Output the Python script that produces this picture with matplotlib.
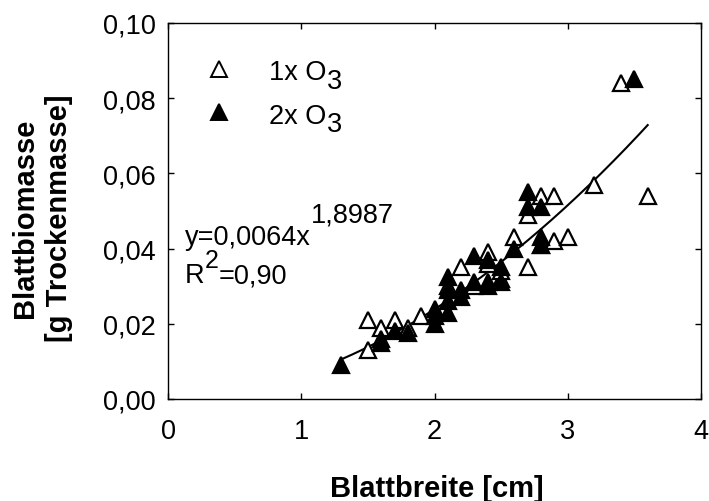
import numpy as np
import matplotlib
matplotlib.use('Agg')
import matplotlib.pyplot as plt
from matplotlib.ticker import FuncFormatter

plt.rcParams['font.family'] = ['Liberation Sans', 'DejaVu Sans']

# 1x O3 (offene Dreiecke)
open_x = [1.5, 1.5, 1.6, 1.7, 1.8, 1.9, 2.1, 2.2, 2.3, 2.4, 2.4, 2.5, 2.5, 2.6,
          2.7, 2.7, 2.8, 2.8, 2.9, 2.9, 3.0, 3.2, 3.4, 3.6]
open_y = [0.013, 0.021, 0.019, 0.021, 0.019, 0.022, 0.030, 0.035, 0.030, 0.039,
          0.036, 0.032, 0.034, 0.043, 0.049, 0.035, 0.054, 0.041, 0.054, 0.042,
          0.043, 0.057, 0.084, 0.054]

# 2x O3 (gefuellte Dreiecke)
filled_x = [1.3, 1.6, 1.6, 1.7, 1.8, 2.0, 2.0, 2.0, 2.1, 2.1, 2.1, 2.1, 2.2, 2.2,
            2.3, 2.3, 2.4, 2.4, 2.4, 2.5, 2.5, 2.6, 2.7, 2.7, 2.8, 2.8, 2.8, 3.5]
filled_y = [0.009, 0.016, 0.015, 0.018, 0.0175, 0.024, 0.022, 0.020, 0.0325,
            0.029, 0.026, 0.023, 0.029, 0.027, 0.038, 0.031, 0.037, 0.031, 0.030,
            0.035, 0.031, 0.040, 0.055, 0.051, 0.051, 0.043, 0.041, 0.085]

# Regression y = a * x^b
fit_a = 0.0064
fit_b = 1.8987
fit_range = [1.3, 3.6]

x_ticks = [0, 1, 2, 3, 4]
y_ticks = [0.0, 0.02, 0.04, 0.06, 0.08, 0.10]

DPI = 100
fig = plt.figure(figsize=(7.09, 5.02), dpi=DPI)
ax = fig.add_axes([168/709, 1-400/502, 533/709, 376/502])
renderer = fig.canvas.get_renderer()


def rich_text(x, y, parts):
    # parts: (text, fontsize, shift in points); hoch/tief gestellt in fast voller Groesse
    dx = 0.0
    for s, fs, dy in parts:
        t = ax.annotate(s, xy=(x, y), xycoords='data', xytext=(dx, dy),
                        textcoords='offset points', fontsize=fs,
                        ha='left', va='baseline')
        dx += t.get_window_extent(renderer).width * 72 / DPI


xf = np.linspace(fit_range[0], fit_range[1], 200)
ax.plot(xf, fit_a * xf ** fit_b, color='black', lw=1.5, zorder=1)

ax.plot(open_x, open_y, '^', ms=11, mfc='white', mec='black', mew=1.6,
        ls='none', zorder=2)
ax.plot(filled_x, filled_y, '^', ms=11, mfc='black', mec='black', mew=1.6,
        ls='none', zorder=3)

ax.set_xlim(0, 4)
ax.set_ylim(0, 0.10)
ax.set_xticks(x_ticks)
ax.set_yticks(y_ticks)
ax.yaxis.set_major_formatter(FuncFormatter(lambda v, p: ('%.2f' % v).replace('.', ',')))
ax.tick_params(direction='in', length=4.5, width=1, labelsize=19.5,
               top=True, right=True)
ax.tick_params(axis='x', pad=14)
ax.tick_params(axis='y', pad=9)
for s in ax.spines.values():
    s.set_linewidth(1)

fig.text(437/709, 1-489/502, 'Blattbreite [cm]', fontsize=21, fontweight='bold',
         ha='center', va='center')
fig.text(42/709, 1-218/502, 'Blattbiomasse\n[g Trockenmasse]', fontsize=21,
         fontweight='bold', rotation=90, ha='center', va='center',
         multialignment='center', linespacing=1.25)

# Legende
ax.plot([0.38], [0.0878], '^', ms=12, mfc='white', mec='black', mew=1.4)
ax.plot([0.38], [0.0762], '^', ms=12, mfc='black', mec='black', mew=1.4)
rich_text(0.76, 0.0850, [('1x O', 19.5, 0), ('3', 19.5, -6)])
rich_text(0.76, 0.0735, [('2x O', 19.5, 0), ('3', 19.5, -6)])

# Gleichung
rich_text(0.125, 0.0412, [('y=0,0064x', 19.5, 0), ('1,8987', 19.5, 16)])
rich_text(0.125, 0.0310, [('R', 19.5, 0), ('2', 18, 11), ('=0,90', 19.5, 0)])

fig.savefig('out.png', dpi=DPI)
